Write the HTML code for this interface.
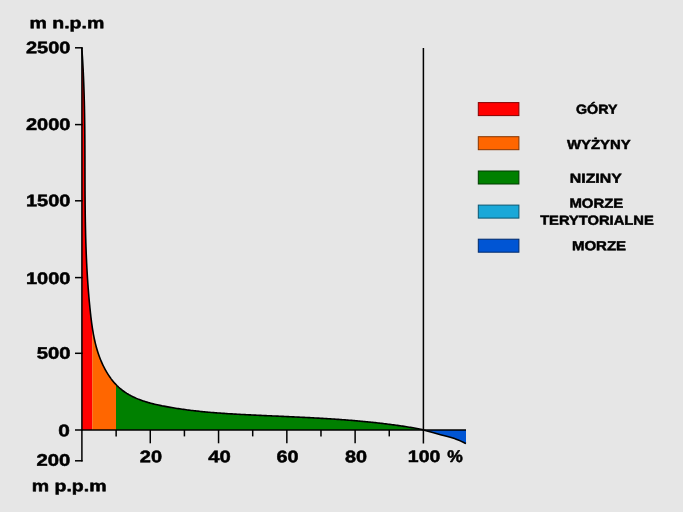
<!DOCTYPE html>
<html><head><meta charset="utf-8"><style>
html,body{margin:0;padding:0;background:#e6e6e6;overflow:hidden;width:683px;height:512px;}
svg{display:block}
text{font-family:"Liberation Sans",sans-serif;font-weight:bold;fill:#000;stroke:#000;stroke-width:0.5;stroke-linejoin:round}
</style></head><body>
<svg width="683" height="512" viewBox="0 0 683 512">
<rect width="683" height="512" fill="#e6e6e6"/>
<defs><clipPath id="land"><path d="M82.00,48.00 L81.90,49.23 L81.99,50.55 L82.09,51.88 L82.18,53.20 L82.26,54.52 L82.35,55.85 L82.44,57.17 L82.52,58.49 L82.60,59.82 L82.68,61.14 L82.76,62.46 L82.83,63.78 L82.90,65.11 L82.98,66.43 L83.05,67.75 L83.11,69.07 L83.18,70.39 L83.25,71.71 L83.31,73.04 L83.37,74.36 L83.43,75.68 L83.49,77.00 L83.54,78.32 L83.60,79.64 L83.65,80.96 L83.71,82.28 L83.76,83.60 L83.80,84.92 L83.85,86.24 L83.90,87.56 L83.94,88.88 L83.99,90.20 L84.03,91.52 L84.07,92.84 L84.11,94.16 L84.15,95.48 L84.18,96.79 L84.22,98.11 L84.25,99.43 L84.29,100.75 L84.32,102.07 L84.35,103.39 L84.38,104.70 L84.41,106.02 L84.44,107.34 L84.46,108.66 L84.49,109.98 L84.51,111.29 L84.54,112.61 L84.56,113.93 L84.58,115.24 L84.60,116.56 L84.62,117.88 L84.64,119.20 L84.66,120.51 L84.68,121.83 L84.69,123.15 L84.71,124.46 L84.73,125.78 L84.74,127.09 L84.75,128.41 L84.77,129.73 L84.78,131.04 L84.79,132.36 L84.80,133.68 L84.81,134.99 L84.82,136.31 L84.83,137.62 L84.84,138.94 L84.85,140.25 L84.86,141.57 L84.86,142.88 L84.87,144.20 L84.88,145.51 L84.88,146.83 L84.89,148.14 L84.89,149.46 L84.90,150.77 L84.90,152.09 L84.91,153.40 L84.91,154.72 L84.92,156.03 L84.92,157.35 L84.92,158.66 L84.93,159.98 L84.93,161.29 L84.94,162.61 L84.94,163.92 L84.94,165.24 L84.94,166.55 L84.95,167.86 L84.95,169.18 L84.95,170.49 L84.96,171.81 L84.96,173.12 L84.96,174.43 L84.97,175.75 L84.97,177.06 L84.97,178.38 L84.98,179.69 L84.98,181.00 L84.99,182.32 L84.99,183.63 L85.00,184.95 L85.00,186.26 L85.01,187.57 L85.01,188.89 L85.02,190.20 L85.03,191.51 L85.03,192.83 L85.04,194.14 L85.05,195.46 L85.06,196.77 L85.07,198.08 L85.08,199.40 L85.09,200.71 L85.10,202.02 L85.11,203.34 L85.12,204.65 L85.13,205.96 L85.15,207.28 L85.16,208.59 L85.18,209.91 L85.19,211.22 L85.21,212.53 L85.22,213.85 L85.24,215.16 L85.26,216.47 L85.28,217.79 L85.30,219.10 L85.32,220.42 L85.34,221.73 L85.37,223.04 L85.39,224.36 L85.42,225.67 L85.44,226.98 L85.47,228.30 L85.50,229.61 L85.53,230.93 L85.56,232.24 L85.59,233.55 L85.62,234.87 L85.65,236.18 L85.69,237.50 L85.73,238.81 L85.76,240.12 L85.80,241.44 L85.84,242.75 L85.88,244.07 L85.93,245.38 L85.97,246.70 L86.02,248.01 L86.06,249.33 L86.11,250.64 L86.16,251.95 L86.21,253.27 L86.26,254.58 L86.32,255.90 L86.37,257.21 L86.43,258.53 L86.49,259.84 L86.55,261.16 L86.61,262.47 L86.68,263.79 L86.74,265.10 L86.81,266.42 L86.88,267.73 L86.95,269.05 L87.02,270.37 L87.10,271.68 L87.17,273.00 L87.25,274.31 L87.33,275.63 L87.41,276.94 L87.49,278.26 L87.58,279.58 L87.67,280.89 L87.76,282.21 L87.85,283.53 L87.94,284.84 L88.04,286.16 L88.13,287.48 L88.23,288.79 L88.34,290.11 L88.44,291.43 L88.55,292.74 L88.65,294.06 L88.76,295.38 L88.88,296.70 L88.99,298.01 L89.11,299.33 L89.23,300.65 L89.35,301.97 L89.48,303.28 L89.60,304.60 L89.73,305.92 L89.86,307.24 L90.00,308.56 L90.13,309.88 L90.27,311.19 L90.41,312.51 L90.56,313.83 L90.70,315.15 L90.85,316.47 L91.01,317.79 L91.17,319.10 L91.33,320.42 L91.50,321.74 L91.67,323.05 L91.85,324.37 L92.04,325.68 L92.23,326.99 L92.43,328.30 L92.63,329.61 L92.85,330.92 L93.07,332.23 L93.30,333.53 L93.54,334.83 L93.79,336.13 L94.04,337.43 L94.31,338.72 L94.59,340.01 L94.88,341.30 L95.18,342.59 L95.49,343.87 L95.81,345.15 L96.15,346.43 L96.50,347.70 L96.86,348.97 L97.24,350.23 L97.63,351.50 L98.03,352.75 L98.45,354.01 L98.88,355.26 L99.33,356.50 L99.79,357.74 L100.27,358.98 L100.77,360.21 L101.28,361.43 L101.81,362.65 L102.36,363.86 L102.92,365.06 L103.50,366.26 L104.10,367.44 L104.71,368.61 L105.34,369.78 L105.99,370.93 L106.65,372.07 L107.33,373.20 L108.03,374.31 L108.75,375.41 L109.48,376.50 L110.23,377.56 L111.00,378.62 L111.79,379.65 L112.59,380.67 L113.41,381.67 L114.25,382.65 L115.11,383.61 L115.98,384.55 L116.87,385.47 L117.79,386.36 L118.72,387.24 L119.66,388.09 L120.63,388.91 L121.61,389.71 L122.61,390.49 L123.63,391.24 L124.67,391.98 L125.72,392.68 L126.79,393.37 L127.87,394.03 L128.97,394.68 L130.08,395.30 L131.21,395.90 L132.35,396.48 L133.50,397.05 L134.67,397.59 L135.85,398.12 L137.04,398.63 L138.24,399.12 L139.45,399.60 L140.67,400.06 L141.90,400.50 L143.14,400.93 L144.39,401.35 L145.65,401.75 L146.91,402.13 L148.18,402.51 L149.46,402.87 L150.74,403.22 L152.03,403.56 L153.33,403.88 L154.63,404.20 L155.93,404.51 L157.24,404.80 L158.55,405.09 L159.87,405.37 L161.18,405.64 L162.50,405.91 L163.82,406.16 L165.14,406.41 L166.46,406.66 L167.78,406.90 L169.10,407.13 L170.42,407.36 L171.74,407.58 L173.06,407.80 L174.38,408.02 L175.69,408.23 L177.01,408.43 L178.33,408.64 L179.64,408.83 L180.96,409.03 L182.27,409.21 L183.59,409.40 L184.90,409.58 L186.21,409.75 L187.53,409.93 L188.84,410.09 L190.15,410.26 L191.46,410.42 L192.78,410.58 L194.09,410.73 L195.40,410.88 L196.71,411.03 L198.02,411.17 L199.33,411.31 L200.64,411.44 L201.95,411.58 L203.26,411.71 L204.57,411.84 L205.88,411.96 L207.19,412.08 L208.49,412.20 L209.80,412.31 L211.11,412.43 L212.42,412.54 L213.73,412.64 L215.03,412.75 L216.34,412.85 L217.65,412.95 L218.96,413.05 L220.27,413.15 L221.57,413.24 L222.88,413.33 L224.19,413.42 L225.50,413.51 L226.80,413.60 L228.11,413.68 L229.42,413.76 L230.73,413.84 L232.04,413.92 L233.34,414.00 L234.65,414.08 L235.96,414.15 L237.27,414.22 L238.58,414.30 L239.89,414.37 L241.19,414.44 L242.50,414.51 L243.81,414.57 L245.12,414.64 L246.43,414.71 L247.74,414.77 L249.05,414.84 L250.36,414.90 L251.68,414.97 L252.99,415.03 L254.30,415.09 L255.61,415.16 L256.92,415.22 L258.24,415.28 L259.55,415.34 L260.86,415.40 L262.18,415.46 L263.49,415.52 L264.80,415.58 L266.12,415.64 L267.43,415.70 L268.75,415.76 L270.06,415.82 L271.38,415.88 L272.69,415.94 L274.01,416.00 L275.32,416.06 L276.64,416.11 L277.95,416.17 L279.27,416.23 L280.58,416.29 L281.90,416.35 L283.22,416.41 L284.53,416.47 L285.85,416.53 L287.17,416.59 L288.48,416.65 L289.80,416.71 L291.12,416.77 L292.44,416.83 L293.75,416.89 L295.07,416.96 L296.39,417.02 L297.71,417.08 L299.02,417.14 L300.34,417.21 L301.66,417.27 L302.98,417.34 L304.29,417.40 L305.61,417.47 L306.93,417.54 L308.25,417.60 L309.56,417.67 L310.88,417.74 L312.20,417.81 L313.52,417.88 L314.84,417.95 L316.15,418.03 L317.47,418.10 L318.79,418.17 L320.11,418.25 L321.42,418.33 L322.74,418.40 L324.06,418.48 L325.38,418.56 L326.69,418.64 L328.01,418.72 L329.33,418.80 L330.64,418.89 L331.96,418.97 L333.28,419.06 L334.59,419.15 L335.91,419.24 L337.23,419.33 L338.54,419.42 L339.86,419.51 L341.17,419.60 L342.49,419.70 L343.80,419.80 L345.12,419.90 L346.43,420.00 L347.75,420.10 L349.06,420.20 L350.38,420.31 L351.69,420.41 L353.01,420.52 L354.32,420.63 L355.63,420.74 L356.95,420.86 L358.26,420.97 L359.57,421.09 L360.88,421.21 L362.20,421.33 L363.51,421.45 L364.82,421.58 L366.13,421.70 L367.44,421.83 L368.75,421.96 L370.06,422.09 L371.37,422.23 L372.68,422.37 L373.99,422.51 L375.30,422.65 L376.61,422.79 L377.92,422.94 L379.22,423.08 L380.53,423.23 L381.84,423.39 L383.15,423.54 L384.45,423.70 L385.76,423.86 L387.06,424.02 L388.37,424.18 L389.67,424.35 L390.98,424.52 L392.28,424.69 L393.58,424.86 L394.89,425.04 L396.19,425.22 L397.49,425.40 L398.79,425.59 L400.09,425.78 L401.39,425.97 L402.69,426.16 L403.99,426.35 L405.29,426.55 L406.59,426.76 L407.89,426.96 L409.19,427.17 L410.48,427.38 L411.78,427.59 L413.08,427.81 L414.37,428.03 L415.67,428.25 L416.96,428.47 L418.25,428.70 L419.55,428.93 L420.84,429.17 L422.13,429.41 L423.40,430.00 L423.4,430 L82,430 Z"/></clipPath></defs>
<g clip-path="url(#land)">
<rect x="81" y="40" width="11.299999999999997" height="400" fill="#ff0000"/>
<rect x="92.3" y="40" width="23.700000000000003" height="400" fill="#ff6600"/>
<rect x="116.0" y="40" width="307.4" height="400" fill="#008000"/>
</g>
<path d="M423.4,430 C426.40,430.83 436.22,433.57 441.40,435.00 C446.58,436.43 450.40,437.17 454.50,438.60 C458.60,440.03 464.08,442.77 466.00,443.60 L466,430 L423.4,430 Z" fill="#0055d4"/>
<path d="M82.00,48.00 L81.90,49.23 L81.99,50.55 L82.09,51.88 L82.18,53.20 L82.26,54.52 L82.35,55.85 L82.44,57.17 L82.52,58.49 L82.60,59.82 L82.68,61.14 L82.76,62.46 L82.83,63.78 L82.90,65.11 L82.98,66.43 L83.05,67.75 L83.11,69.07 L83.18,70.39 L83.25,71.71 L83.31,73.04 L83.37,74.36 L83.43,75.68 L83.49,77.00 L83.54,78.32 L83.60,79.64 L83.65,80.96 L83.71,82.28 L83.76,83.60 L83.80,84.92 L83.85,86.24 L83.90,87.56 L83.94,88.88 L83.99,90.20 L84.03,91.52 L84.07,92.84 L84.11,94.16 L84.15,95.48 L84.18,96.79 L84.22,98.11 L84.25,99.43 L84.29,100.75 L84.32,102.07 L84.35,103.39 L84.38,104.70 L84.41,106.02 L84.44,107.34 L84.46,108.66 L84.49,109.98 L84.51,111.29 L84.54,112.61 L84.56,113.93 L84.58,115.24 L84.60,116.56 L84.62,117.88 L84.64,119.20 L84.66,120.51 L84.68,121.83 L84.69,123.15 L84.71,124.46 L84.73,125.78 L84.74,127.09 L84.75,128.41 L84.77,129.73 L84.78,131.04 L84.79,132.36 L84.80,133.68 L84.81,134.99 L84.82,136.31 L84.83,137.62 L84.84,138.94 L84.85,140.25 L84.86,141.57 L84.86,142.88 L84.87,144.20 L84.88,145.51 L84.88,146.83 L84.89,148.14 L84.89,149.46 L84.90,150.77 L84.90,152.09 L84.91,153.40 L84.91,154.72 L84.92,156.03 L84.92,157.35 L84.92,158.66 L84.93,159.98 L84.93,161.29 L84.94,162.61 L84.94,163.92 L84.94,165.24 L84.94,166.55 L84.95,167.86 L84.95,169.18 L84.95,170.49 L84.96,171.81 L84.96,173.12 L84.96,174.43 L84.97,175.75 L84.97,177.06 L84.97,178.38 L84.98,179.69 L84.98,181.00 L84.99,182.32 L84.99,183.63 L85.00,184.95 L85.00,186.26 L85.01,187.57 L85.01,188.89 L85.02,190.20 L85.03,191.51 L85.03,192.83 L85.04,194.14 L85.05,195.46 L85.06,196.77 L85.07,198.08 L85.08,199.40 L85.09,200.71 L85.10,202.02 L85.11,203.34 L85.12,204.65 L85.13,205.96 L85.15,207.28 L85.16,208.59 L85.18,209.91 L85.19,211.22 L85.21,212.53 L85.22,213.85 L85.24,215.16 L85.26,216.47 L85.28,217.79 L85.30,219.10 L85.32,220.42 L85.34,221.73 L85.37,223.04 L85.39,224.36 L85.42,225.67 L85.44,226.98 L85.47,228.30 L85.50,229.61 L85.53,230.93 L85.56,232.24 L85.59,233.55 L85.62,234.87 L85.65,236.18 L85.69,237.50 L85.73,238.81 L85.76,240.12 L85.80,241.44 L85.84,242.75 L85.88,244.07 L85.93,245.38 L85.97,246.70 L86.02,248.01 L86.06,249.33 L86.11,250.64 L86.16,251.95 L86.21,253.27 L86.26,254.58 L86.32,255.90 L86.37,257.21 L86.43,258.53 L86.49,259.84 L86.55,261.16 L86.61,262.47 L86.68,263.79 L86.74,265.10 L86.81,266.42 L86.88,267.73 L86.95,269.05 L87.02,270.37 L87.10,271.68 L87.17,273.00 L87.25,274.31 L87.33,275.63 L87.41,276.94 L87.49,278.26 L87.58,279.58 L87.67,280.89 L87.76,282.21 L87.85,283.53 L87.94,284.84 L88.04,286.16 L88.13,287.48 L88.23,288.79 L88.34,290.11 L88.44,291.43 L88.55,292.74 L88.65,294.06 L88.76,295.38 L88.88,296.70 L88.99,298.01 L89.11,299.33 L89.23,300.65 L89.35,301.97 L89.48,303.28 L89.60,304.60 L89.73,305.92 L89.86,307.24 L90.00,308.56 L90.13,309.88 L90.27,311.19 L90.41,312.51 L90.56,313.83 L90.70,315.15 L90.85,316.47 L91.01,317.79 L91.17,319.10 L91.33,320.42 L91.50,321.74 L91.67,323.05 L91.85,324.37 L92.04,325.68 L92.23,326.99 L92.43,328.30 L92.63,329.61 L92.85,330.92 L93.07,332.23 L93.30,333.53 L93.54,334.83 L93.79,336.13 L94.04,337.43 L94.31,338.72 L94.59,340.01 L94.88,341.30 L95.18,342.59 L95.49,343.87 L95.81,345.15 L96.15,346.43 L96.50,347.70 L96.86,348.97 L97.24,350.23 L97.63,351.50 L98.03,352.75 L98.45,354.01 L98.88,355.26 L99.33,356.50 L99.79,357.74 L100.27,358.98 L100.77,360.21 L101.28,361.43 L101.81,362.65 L102.36,363.86 L102.92,365.06 L103.50,366.26 L104.10,367.44 L104.71,368.61 L105.34,369.78 L105.99,370.93 L106.65,372.07 L107.33,373.20 L108.03,374.31 L108.75,375.41 L109.48,376.50 L110.23,377.56 L111.00,378.62 L111.79,379.65 L112.59,380.67 L113.41,381.67 L114.25,382.65 L115.11,383.61 L115.98,384.55 L116.87,385.47 L117.79,386.36 L118.72,387.24 L119.66,388.09 L120.63,388.91 L121.61,389.71 L122.61,390.49 L123.63,391.24 L124.67,391.98 L125.72,392.68 L126.79,393.37 L127.87,394.03 L128.97,394.68 L130.08,395.30 L131.21,395.90 L132.35,396.48 L133.50,397.05 L134.67,397.59 L135.85,398.12 L137.04,398.63 L138.24,399.12 L139.45,399.60 L140.67,400.06 L141.90,400.50 L143.14,400.93 L144.39,401.35 L145.65,401.75 L146.91,402.13 L148.18,402.51 L149.46,402.87 L150.74,403.22 L152.03,403.56 L153.33,403.88 L154.63,404.20 L155.93,404.51 L157.24,404.80 L158.55,405.09 L159.87,405.37 L161.18,405.64 L162.50,405.91 L163.82,406.16 L165.14,406.41 L166.46,406.66 L167.78,406.90 L169.10,407.13 L170.42,407.36 L171.74,407.58 L173.06,407.80 L174.38,408.02 L175.69,408.23 L177.01,408.43 L178.33,408.64 L179.64,408.83 L180.96,409.03 L182.27,409.21 L183.59,409.40 L184.90,409.58 L186.21,409.75 L187.53,409.93 L188.84,410.09 L190.15,410.26 L191.46,410.42 L192.78,410.58 L194.09,410.73 L195.40,410.88 L196.71,411.03 L198.02,411.17 L199.33,411.31 L200.64,411.44 L201.95,411.58 L203.26,411.71 L204.57,411.84 L205.88,411.96 L207.19,412.08 L208.49,412.20 L209.80,412.31 L211.11,412.43 L212.42,412.54 L213.73,412.64 L215.03,412.75 L216.34,412.85 L217.65,412.95 L218.96,413.05 L220.27,413.15 L221.57,413.24 L222.88,413.33 L224.19,413.42 L225.50,413.51 L226.80,413.60 L228.11,413.68 L229.42,413.76 L230.73,413.84 L232.04,413.92 L233.34,414.00 L234.65,414.08 L235.96,414.15 L237.27,414.22 L238.58,414.30 L239.89,414.37 L241.19,414.44 L242.50,414.51 L243.81,414.57 L245.12,414.64 L246.43,414.71 L247.74,414.77 L249.05,414.84 L250.36,414.90 L251.68,414.97 L252.99,415.03 L254.30,415.09 L255.61,415.16 L256.92,415.22 L258.24,415.28 L259.55,415.34 L260.86,415.40 L262.18,415.46 L263.49,415.52 L264.80,415.58 L266.12,415.64 L267.43,415.70 L268.75,415.76 L270.06,415.82 L271.38,415.88 L272.69,415.94 L274.01,416.00 L275.32,416.06 L276.64,416.11 L277.95,416.17 L279.27,416.23 L280.58,416.29 L281.90,416.35 L283.22,416.41 L284.53,416.47 L285.85,416.53 L287.17,416.59 L288.48,416.65 L289.80,416.71 L291.12,416.77 L292.44,416.83 L293.75,416.89 L295.07,416.96 L296.39,417.02 L297.71,417.08 L299.02,417.14 L300.34,417.21 L301.66,417.27 L302.98,417.34 L304.29,417.40 L305.61,417.47 L306.93,417.54 L308.25,417.60 L309.56,417.67 L310.88,417.74 L312.20,417.81 L313.52,417.88 L314.84,417.95 L316.15,418.03 L317.47,418.10 L318.79,418.17 L320.11,418.25 L321.42,418.33 L322.74,418.40 L324.06,418.48 L325.38,418.56 L326.69,418.64 L328.01,418.72 L329.33,418.80 L330.64,418.89 L331.96,418.97 L333.28,419.06 L334.59,419.15 L335.91,419.24 L337.23,419.33 L338.54,419.42 L339.86,419.51 L341.17,419.60 L342.49,419.70 L343.80,419.80 L345.12,419.90 L346.43,420.00 L347.75,420.10 L349.06,420.20 L350.38,420.31 L351.69,420.41 L353.01,420.52 L354.32,420.63 L355.63,420.74 L356.95,420.86 L358.26,420.97 L359.57,421.09 L360.88,421.21 L362.20,421.33 L363.51,421.45 L364.82,421.58 L366.13,421.70 L367.44,421.83 L368.75,421.96 L370.06,422.09 L371.37,422.23 L372.68,422.37 L373.99,422.51 L375.30,422.65 L376.61,422.79 L377.92,422.94 L379.22,423.08 L380.53,423.23 L381.84,423.39 L383.15,423.54 L384.45,423.70 L385.76,423.86 L387.06,424.02 L388.37,424.18 L389.67,424.35 L390.98,424.52 L392.28,424.69 L393.58,424.86 L394.89,425.04 L396.19,425.22 L397.49,425.40 L398.79,425.59 L400.09,425.78 L401.39,425.97 L402.69,426.16 L403.99,426.35 L405.29,426.55 L406.59,426.76 L407.89,426.96 L409.19,427.17 L410.48,427.38 L411.78,427.59 L413.08,427.81 L414.37,428.03 L415.67,428.25 L416.96,428.47 L418.25,428.70 L419.55,428.93 L420.84,429.17 L422.13,429.41 L423.40,430.00 C426.40,430.83 436.22,433.57 441.40,435.00 C446.58,436.43 450.40,437.17 454.50,438.60 C458.60,440.03 464.08,442.77 466.00,443.60" fill="none" stroke="#000" stroke-width="1.6"/>
<g stroke="#000" stroke-width="1.5" fill="none">
<line x1="81.9" y1="47.3" x2="81.9" y2="461.5"/>
<line x1="81" y1="430" x2="466" y2="430"/>
<line x1="423.4" y1="48" x2="423.4" y2="443.5"/>
<line x1="75" y1="47.8" x2="82.6" y2="47.8"/><line x1="75" y1="124.6" x2="82.6" y2="124.6"/><line x1="75" y1="200.8" x2="82.6" y2="200.8"/><line x1="75" y1="277.6" x2="82.6" y2="277.6"/><line x1="75" y1="353.3" x2="82.6" y2="353.3"/><line x1="75" y1="430" x2="82.6" y2="430"/><line x1="75" y1="460.8" x2="82.6" y2="460.8"/><line x1="116.14" y1="430" x2="116.14" y2="436.4"/><line x1="150.28" y1="430" x2="150.28" y2="443.3"/><line x1="184.42" y1="430" x2="184.42" y2="436.4"/><line x1="218.56" y1="430" x2="218.56" y2="443.3"/><line x1="252.70" y1="430" x2="252.70" y2="436.4"/><line x1="286.84" y1="430" x2="286.84" y2="443.3"/><line x1="320.98" y1="430" x2="320.98" y2="436.4"/><line x1="355.12" y1="430" x2="355.12" y2="443.3"/><line x1="389.26" y1="430" x2="389.26" y2="436.4"/>
</g>
<g stroke-width="1" >
<rect x="478.3" y="102.6" width="40.6" height="13" fill="#ff0000" stroke="#850000"/>
<rect x="478.3" y="136.7" width="40.6" height="13" fill="#ff6600" stroke="#853500"/>
<rect x="478.3" y="171.0" width="40.6" height="13" fill="#008000" stroke="#003a00"/>
<rect x="478.3" y="205.1" width="40.6" height="13" fill="#1aa8d8" stroke="#0b5570"/>
<rect x="478.3" y="239.2" width="40.6" height="13" fill="#0055d4" stroke="#002a6a"/>
</g>
<g style="filter:grayscale(1)"><text transform="translate(29.44,28.25) rotate(0.06) scale(1.2411,1)" font-size="15.74">m n.p.m</text><text transform="translate(26.00,53.18) rotate(0.06) scale(1.1966,1)" font-size="16.71">2500</text><text transform="translate(26.00,129.98) rotate(0.06) scale(1.1966,1)" font-size="16.71">2000</text><text transform="translate(26.00,206.28) rotate(0.06) scale(1.1966,1)" font-size="16.71">1500</text><text transform="translate(26.00,283.93) rotate(0.06) scale(1.1966,1)" font-size="16.71">1000</text><text transform="translate(36.80,358.83) rotate(0.06) scale(1.2113,1)" font-size="16.71">500</text><text transform="translate(58.18,436.18) rotate(0.06) scale(1.2442,1)" font-size="16.71">0</text><text transform="translate(36.49,465.78) rotate(0.06) scale(1.2151,1)" font-size="16.71">200</text><text transform="translate(31.74,491.25) rotate(0.06) scale(1.2251,1)" font-size="15.93">m p.p.m</text><text transform="translate(139.80,462.13) rotate(0.06) scale(1.1967,1)" font-size="16.71">20</text><text transform="translate(208.20,462.13) rotate(0.06) scale(1.2132,1)" font-size="16.71">40</text><text transform="translate(276.60,462.13) rotate(0.06) scale(1.1854,1)" font-size="16.71">60</text><text transform="translate(345.10,462.13) rotate(0.06) scale(1.1855,1)" font-size="16.71">80</text><text transform="translate(407.83,462.08) rotate(0.06) scale(1.1629,1)" font-size="16.71">100</text><text transform="translate(447.22,462.08) rotate(0.06) scale(1.0310,1)" font-size="16.96">%</text><text transform="translate(576.00,113.72) rotate(0.06) scale(1.0817,1)" font-size="13.19">GÓRY</text><text transform="translate(566.88,148.95) rotate(0.06) scale(1.1326,1)" font-size="13.19">WYŻYNY</text><text transform="translate(569.77,182.65) rotate(0.06) scale(1.2032,1)" font-size="13.19">NIZINY</text><text transform="translate(569.41,207.62) rotate(0.06) scale(1.1300,1)" font-size="13.19">MORZE</text><text transform="translate(540.13,224.62) rotate(0.06) scale(1.1158,1)" font-size="13.19">TERYTORIALNE</text><text transform="translate(571.91,250.32) rotate(0.06) scale(1.1386,1)" font-size="13.19">MORZE</text></g>
</svg>
</body></html>
